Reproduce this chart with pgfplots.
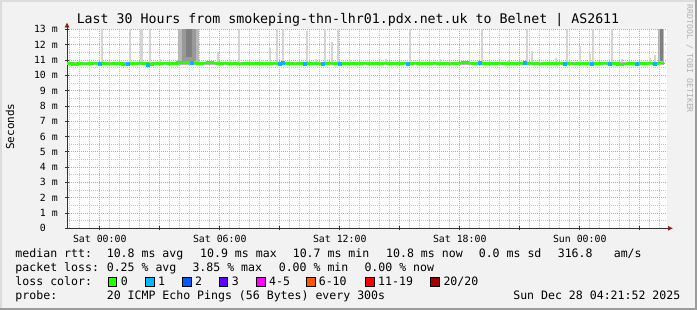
\documentclass[border=0pt]{standalone}
\usepackage{pgfplots}
\pgfplotsset{compat=1.18}
\usepackage{fontspec}
\setmainfont{DejaVu Sans Mono}
\usetikzlibrary{arrows.meta}
\definecolor{bg}{HTML}{F2F2F2}
\definecolor{borderlight}{HTML}{DCDCDC}
\definecolor{borderdark}{HTML}{9C9C9C}
\definecolor{gridred}{HTML}{FF8C8C}
\definecolor{gridgray}{HTML}{C4C4C4}
\definecolor{arrowred}{HTML}{8B1A1A}
\definecolor{lossA}{HTML}{26FF00}
\definecolor{lossB}{HTML}{00B8FF}
\definecolor{lossC}{HTML}{0059FF}
\definecolor{lossD}{HTML}{5E00FF}
\definecolor{lossE}{HTML}{FF00FF}
\definecolor{lossF}{HTML}{FF5500}
\definecolor{lossG}{HTML}{FF0000}
\definecolor{lossH}{HTML}{A10000}
\definecolor{spike}{HTML}{D4D4D4}
\definecolor{band}{HTML}{B4B4B4}
\definecolor{blockA}{HTML}{B8B8B8}
\definecolor{blockB}{HTML}{999999}
\definecolor{blockC}{HTML}{808080}
\definecolor{wm}{HTML}{B0B0B0}
\newcommand{\tickfont}{\fontsize{9.9}{10}\selectfont}
\newcommand{\legfont}{\fontsize{11.6}{12}\selectfont}
\begin{document}
\begin{tikzpicture}
\useasboundingbox (0,0) rectangle (697bp,310bp);
\fill[bg] (0,0) rectangle (697bp,310bp);
\fill[borderlight] (0,0) rectangle (2bp,310bp);
\fill[borderlight] (0,308bp) rectangle (697bp,310bp);
\fill[borderdark] (0,0) rectangle (697bp,2bp);
\fill[borderdark] (695bp,0) rectangle (697bp,310bp);

\begin{axis}[
  at={(67bp,81.7bp)}, anchor=south west,
  scale only axis, width=600bp, height=198.9bp,
  xmin=-1.636, xmax=28.364, ymin=0, ymax=13,
  axis background/.style={fill=white},
  axis x line=bottom, axis y line=left,
  axis line style={draw=black!80, line width=0.7bp},
  x axis line style={-{Latex[length=5bp,width=5bp,color=arrowred]}, shorten >=-6bp},
  y axis line style={-{Latex[length=5bp,width=5bp,color=arrowred]}, shorten >=-7bp},
  xtick={0,3,...,27},
  xticklabels={Sat 00:00,,Sat 06:00,,Sat 12:00,,Sat 18:00,,Sun 00:00,},
  minor xtick={-1.5,-1,-0.5,0.5,1,1.5,2,2.5,3.5,4,4.5,5,5.5,6.5,7,7.5,8,8.5,9.5,10,10.5,11,11.5,12.5,13,13.5,14,14.5,15.5,16,16.5,17,17.5,18.5,19,19.5,20,20.5,21.5,22,22.5,23,23.5,24.5,25,25.5,26,26.5,27.5,28},
  ytick={0,1,...,13},
  yticklabels={0\hphantom{\ m},1 m,2 m,3 m,4 m,5 m,6 m,7 m,8 m,9 m,10 m,11 m,12 m,13 m},
  minor ytick={0.5,1.5,...,12.5},
  grid=both,
  major grid style={draw=gridred, dash pattern=on 1bp off 1bp, line width=0.6bp},
  minor grid style={draw=gridgray, dash pattern=on 1bp off 1bp, line width=0.6bp},
  tick style={draw=black!80, line width=0.6bp},
  major tick length=4bp, minor tick length=0bp, tick align=center,
  xticklabel style={font=\tickfont, anchor=north, inner sep=0pt, yshift=-5bp},
  yticklabel style={font=\tickfont, anchor=east, inner sep=0pt, xshift=-7bp},
]
% smoke band around the median
\addplot[fill=band, draw=none] coordinates {(-1.636,10.66) (28.21,10.66) (28.21,10.9) (-1.636,10.9)} -- cycle;
% smoke spikes (base, height)
\addplot[draw=spike, line width=2bp, mark=none, quiver={u=0, v=\thisrow{h}}] table[x=x, y=y] {
x y h
0.099 10.85 2.15
1.514 10.85 2.15
2.05 10.85 2.15
2.13 10.85 2.15
2.514 10.85 2.15
3.0 10.85 0.2
5.914 10.85 0.65
6.5 10.85 0.15
6.964 10.85 2.15
8.514 10.85 0.95
8.85 10.85 2.15
9.164 10.85 2.15
10.364 10.85 2.05
10.8 10.85 0.2
11.264 10.85 2.15
11.6 10.85 1.35
11.914 10.85 2.15
12.5 10.85 0.15
14.3 10.85 0.2
15.514 10.85 2.15
17.0 10.85 0.2
19.114 10.85 2.15
20.4 10.85 0.15
21.364 10.85 2.15
21.614 10.85 0.75
22.8 10.85 0.25
23.364 10.85 2.15
24.014 10.85 1.05
24.514 10.85 0.55
24.664 10.85 2.15
25.614 10.85 2.15
26.1 10.85 0.2
27.5 10.85 0.3
27.764 10.85 0.45
};
% dense smoke blocks
\addplot[fill=blockA, draw=none] coordinates {(3.914,10.88) (4.964,10.88) (4.964,13) (3.914,13)} -- cycle;
\addplot[fill=blockB, draw=none] coordinates {(4.1,10.95) (4.8,10.95) (4.8,13) (4.1,13)} -- cycle;
\addplot[fill=blockC, draw=none] coordinates {(4.3,11.2) (4.6,11.2) (4.6,13) (4.3,13)} -- cycle;
\addplot[fill=blockA, draw=none] coordinates {(27.914,10.88) (28.214,10.88) (28.214,13) (27.914,13)} -- cycle;
\addplot[fill=blockC, draw=none] coordinates {(28.03,10.95) (28.17,10.95) (28.17,13) (28.03,13)} -- cycle;
% median rtt
\addplot[color=lossA, line width=2.6bp, mark=none, const plot] coordinates {
(-1.60,10.76) (-1.35,10.72) (-1.10,10.78) (-0.85,10.74) (-0.60,10.78) (-0.35,10.80) (-0.10,10.76)
(0.15,10.78) (0.40,10.74) (0.65,10.78) (0.90,10.78) (1.15,10.72) (1.40,10.76) (1.65,10.78)
(1.90,10.80) (2.15,10.76) (2.40,10.72) (2.65,10.78) (2.90,10.78) (3.15,10.80) (3.40,10.78)
(3.65,10.76) (3.90,10.82) (4.15,10.84) (4.40,10.82) (4.65,10.80) (4.90,10.78) (5.15,10.80)
(5.40,10.84) (5.65,10.80) (5.90,10.78) (6.15,10.80) (6.40,10.78) (6.65,10.76) (6.90,10.74)
(7.15,10.76) (7.40,10.78) (7.65,10.76) (7.90,10.78) (8.15,10.76) (8.40,10.78) (8.65,10.80)
(8.90,10.78) (9.15,10.80) (9.40,10.78) (9.65,10.74) (9.90,10.76) (10.15,10.80) (10.40,10.76)
(10.65,10.78) (10.90,10.74) (11.15,10.78) (11.40,10.80) (11.65,10.78) (11.90,10.76) (12.15,10.78)
(12.40,10.78) (12.65,10.76) (12.90,10.78) (13.15,10.80) (13.40,10.78) (13.65,10.76) (13.90,10.78)
(14.15,10.80) (14.40,10.78) (14.65,10.76) (14.90,10.78) (15.15,10.80) (15.40,10.78) (15.65,10.80)
(15.90,10.78) (16.15,10.76) (16.40,10.78) (16.65,10.80) (16.90,10.78) (17.15,10.76) (17.40,10.74)
(17.65,10.78) (17.90,10.80) (18.15,10.82) (18.40,10.80) (18.65,10.78) (18.90,10.80) (19.15,10.78)
(19.40,10.76) (19.65,10.78) (19.90,10.80) (20.15,10.78) (20.40,10.76) (20.65,10.78) (20.90,10.80)
(21.15,10.78) (21.40,10.80) (21.65,10.76) (21.90,10.74) (22.15,10.78) (22.40,10.76) (22.65,10.78)
(22.90,10.80) (23.15,10.78) (23.40,10.76) (23.65,10.74) (23.90,10.78) (24.15,10.76) (24.40,10.74)
(24.65,10.76) (24.90,10.78) (25.15,10.80) (25.40,10.78) (25.65,10.76) (25.90,10.72) (26.15,10.74)
(26.40,10.76) (26.65,10.78) (26.90,10.76) (27.15,10.78) (27.40,10.80) (27.65,10.78) (27.90,10.80)
(28.21,10.82)
};
% one lost ping
\addplot[only marks, mark=square*, mark size=1.5bp, color=lossB] coordinates {
(0.0,10.76) (1.414,10.76) (2.414,10.72) (4.614,10.80) (9.014,10.78) (9.164,10.80) (10.264,10.76)
(11.164,10.78) (12.014,10.78) (15.414,10.78) (19.014,10.80) (21.264,10.80) (23.264,10.78)
(24.614,10.76) (25.514,10.78) (26.864,10.76) (27.764,10.78)
};
\end{axis}

% title and labels
\node[anchor=base, inner sep=0pt, font=\fontsize{13.3}{14}\selectfont] at (348bp,286bp)
  {Last 30 Hours from smokeping-thn-lhr01.pdx.net.uk to Belnet | AS2611};
\node[rotate=90, inner sep=0pt, font=\fontsize{11}{12}\selectfont] at (10bp,183.3bp) {Seconds};
\node[rotate=-90, inner sep=0pt, text=wm, font=\fontsize{8.2}{9}\selectfont] at (689.7bp,251.2bp) {RRDTOOL / TOBI OETIKER};

% legend
\begin{scope}[every node/.style={anchor=base west, inner sep=0pt, font=\legfont}]
\node at (15.3bp,52.3bp) {median rtt:};
\node at (106.6bp,52.3bp) {10.8 ms avg};
\node at (200bp,52.3bp) {10.9 ms max};
\node at (292.6bp,52.3bp) {10.7 ms min};
\node at (386bp,52.3bp) {10.8 ms now};
\node at (478.6bp,52.3bp) {0.0 ms sd};
\node at (557.6bp,52.3bp) {316.8};
\node at (613.6bp,52.3bp) {am/s};
\node at (15.3bp,38.3bp) {packet loss:};
\node at (106.6bp,38.3bp) {0.25 \% avg};
\node at (192.3bp,38.3bp) {3.85 \% max};
\node at (278.6bp,38.3bp) {0.00 \% min};
\node at (364.3bp,38.3bp) {0.00 \% now};
\node at (15.3bp,24.3bp) {loss color:};
\node at (120.6bp,24.3bp) {0};
\node at (158bp,24.3bp) {1};
\node at (195bp,24.3bp) {2};
\node at (231.6bp,24.3bp) {3};
\node at (269bp,24.3bp) {4-5};
\node at (318.6bp,24.3bp) {6-10};
\node at (378bp,24.3bp) {11-19};
\node at (443.3bp,24.3bp) {20/20};
\node at (15.3bp,10.7bp) {probe:};
\node at (106.6bp,10.7bp) {20 ICMP Echo Pings (56 Bytes) every 300s};
\node[anchor=base east] at (680.5bp,10.7bp) {Sun Dec 28 04:21:52 2025};
\end{scope}
\foreach \xx/\cc in {108.3/lossA,145.7/lossB,182.7/lossC,219.3/lossD,256.7/lossE,306.7/lossF,365.7/lossG,430.7/lossH}
  \filldraw[fill=\cc, draw=black, line width=0.8bp] (\xx bp,24bp) rectangle ++(8.3bp,8.3bp);
\end{tikzpicture}
\end{document}
